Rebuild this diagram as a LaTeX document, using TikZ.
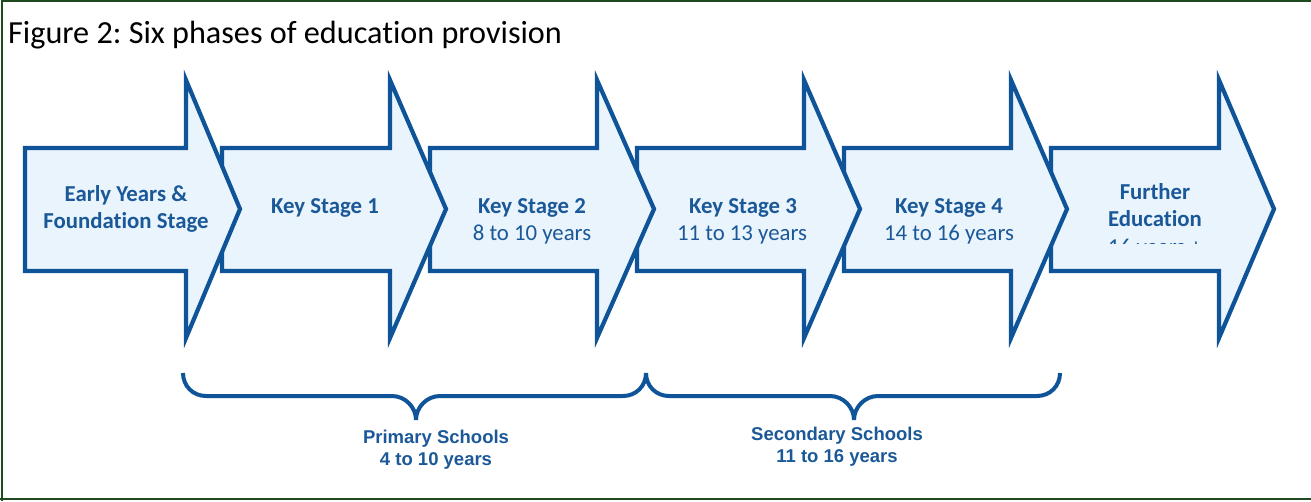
\documentclass[tikz,border=0pt]{standalone}
\usepackage{fontspec}
\setmainfont{Carlito}[RawFeature=-liga]
\newfontfamily\arialfont{Liberation Sans}
\definecolor{edstroke}{HTML}{0F5499}
\definecolor{edfill}{HTML}{EAF4FD}
\definecolor{edtext}{HTML}{1A5897}
\definecolor{framegreen}{HTML}{1E4A1E}
\frenchspacing
\tikzset{
  arrowbox/.style={draw=edstroke, fill=edfill, line width=4.2pt, line join=miter},
  stagetext/.style={text=edtext, font=\fontsize{22.8}{27}\selectfont, align=center, anchor=base, inner sep=0pt},
  bracepath/.style={draw=edstroke, line width=4pt, line cap=butt},
  bracelabel/.style={text=edtext, font=\arialfont\bfseries\fontsize{18.5}{22}\selectfont, align=center, inner sep=0pt},
  frameline/.style={draw=framegreen, line width=2.6pt}
}
\begin{document}
\begin{tikzpicture}[x=1pt,y=-1pt]
\useasboundingbox (0,0) rectangle (1311,501);
% frame
\draw[frameline] (2,501) -- (2,0.8) -- (1311,0.8);
\draw[frameline] (0,498.8) -- (1311,498.8);
% title
\node[anchor=base west, inner sep=0pt, font=\fontsize{32.2}{36}\selectfont] (title) at (8,43) {Figure 2: Six phases of education provision};
% arrows, drawn from last to first so earlier heads lie on top
\foreach \L/\H/\T in {1051/1219/1274, 844/1011/1067, 637/804/860, 430/597/654, 222/390/446, 25/186/240} {
  \draw[arrowbox] (\L,148) -- (\H,148) -- (\H,80) -- (\T,209) -- (\H,338) -- (\H,271) -- (\L,271) -- cycle;
}
% texts
\node[stagetext] (s1a) at (126,201.5) {\bfseries Early Years \&};
\node[stagetext] (s1b) at (126,228.5) {\bfseries Foundation Stage};
\node[stagetext] (s2a) at (325,213.3) {\bfseries Key Stage 1};
\node[stagetext] (s3a) at (532,213.3) {\bfseries Key Stage 2};
\node[stagetext] (s3b) at (532,240.3) {8 to 10 years};
\node[stagetext] (s4a) at (743,213.3) {\bfseries Key Stage 3};
\node[stagetext] (s4b) at (742,240.3) {11 to 13 years};
\node[stagetext] (s5a) at (949,213.3) {\bfseries Key Stage 4};
\node[stagetext] (s5b) at (949,240.3) {14 to 16 years};
\node[stagetext] (s6a) at (1155,199.3) {\bfseries Further};
\node[stagetext] (s6b) at (1155,226.5) {\bfseries Education};
\begin{scope}
  \clip (1060,230) rectangle (1215,243.5);
  \node[stagetext] (s6c) at (1155,254.5) {16 years +};
\end{scope}
% braces
\coordinate (pL) at (183,373);
\coordinate (pC) at (416,420);
\coordinate (pR) at (646,373);
\coordinate (sC) at (854,420);
\coordinate (sR) at (1060,373);
\draw[bracepath] (pL) .. controls (183,386) and (193,396) .. (206,396) -- (392,396)
  .. controls (405,396) and (416,407) .. (pC);
\draw[bracepath] (pC) .. controls (416,407) and (427,396) .. (440,396) -- (623,396)
  .. controls (636,396) and (646,386) .. (pR);
\draw[bracepath] (pR) .. controls (646,386) and (656,396) .. (669,396) -- (830,396)
  .. controls (843,396) and (854,407) .. (sC);
\draw[bracepath] (sC) .. controls (854,407) and (865,396) .. (878,396) -- (1037,396)
  .. controls (1050,396) and (1060,386) .. (sR);
\node[bracelabel] (prim) at (436,449.5) {Primary Schools\\4 to 10 years};
\node[bracelabel] (sec) at (837,447) {Secondary Schools\\11 to 16 years};
\end{tikzpicture}
\end{document}
